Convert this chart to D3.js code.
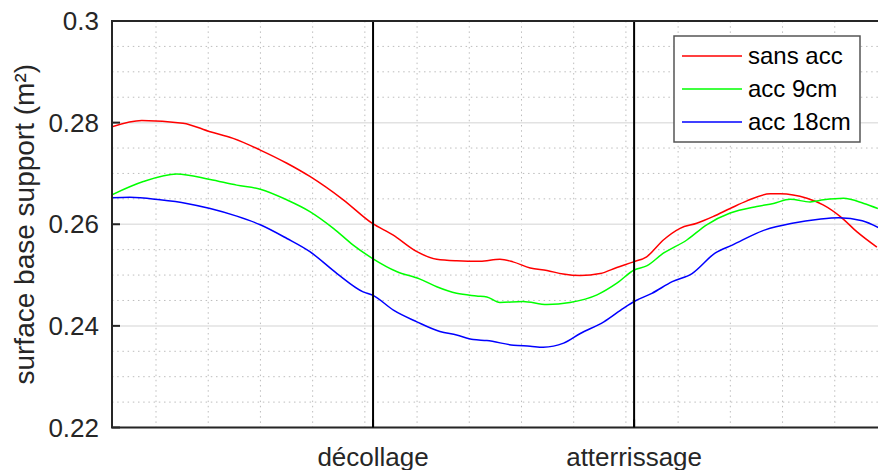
<!DOCTYPE html>
<html>
<head>
<meta charset="utf-8">
<script src="https://cdn.jsdelivr.net/npm/d3@7"></script>
<style>
  body { margin: 0; background: #fff; }
  text { font-family: "Liberation Sans", Arial, sans-serif; fill: #262626; }
</style>
</head>
<body>
<div id="chart"></div>
<script>
// x units: start of the recording = 0, décollage = 50, atterrissage = 100
const phaseTicks = [50, 100];
const phaseLabels = ["décollage", "atterrissage"];
const yTicks = [0.22, 0.24, 0.26, 0.28, 0.3];

const seriesNames = ["sans acc", "acc 9cm", "acc 18cm"];
const seriesColors = ["#ff0000", "#00ff00", "#0000ff"];

const sansAccX = [0, 5.7, 13.6, 18.8, 23.2, 28.4, 33.5, 37.9, 44.3, 49.8, 53.8, 58.4, 62.2, 66.0, 70.5, 74.3, 76.8, 80.1, 83.3, 86.4, 89.7, 93.5, 96.7, 99.9, 102.4, 105.6, 108.8, 112.0, 115.1, 118.4, 121.6, 126.1, 128.0, 133.1, 136.2, 139.5, 142.7, 146.5];
const sansAccY = [0.2792, 0.2804, 0.2799, 0.2782, 0.2769, 0.2746, 0.2720, 0.2694, 0.2648, 0.2602, 0.2579, 0.2546, 0.2531, 0.2528, 0.2527, 0.2531, 0.2526, 0.2514, 0.2509, 0.2502, 0.2499, 0.2503, 0.2515, 0.2526, 0.2536, 0.2569, 0.2592, 0.2602, 0.2615, 0.2631, 0.2646, 0.2660, 0.2660, 0.2651, 0.2638, 0.2615, 0.2585, 0.2555];

const acc9X = [0, 6.0, 12.4, 18.8, 23.9, 28.4, 33.5, 37.9, 42.4, 46.2, 50.0, 54.5, 59.0, 62.2, 66.0, 69.8, 71.8, 74.3, 78.7, 83.3, 87.7, 92.9, 96.7, 100.0, 102.4, 105.6, 110.1, 113.9, 118.4, 123.5, 126.7, 129.9, 133.7, 136.3, 140.1, 144.0, 146.7];
const acc9Y = [0.2658, 0.2684, 0.2699, 0.2688, 0.2677, 0.2669, 0.2648, 0.2625, 0.2592, 0.2559, 0.2532, 0.2507, 0.2492, 0.2477, 0.2464, 0.2459, 0.2457, 0.2446, 0.2448, 0.2442, 0.2446, 0.2461, 0.2484, 0.2510, 0.2518, 0.2543, 0.2569, 0.2599, 0.2622, 0.2635, 0.2641, 0.2649, 0.2644, 0.2648, 0.2651, 0.2641, 0.2631];

const acc18X = [0, 3.4, 9.2, 14.3, 18.8, 23.9, 28.4, 33.5, 37.9, 43.1, 48.1, 50.0, 53.9, 58.4, 62.8, 66.0, 69.2, 71.8, 76.9, 80.1, 82.6, 86.5, 89.7, 94.2, 98.0, 100.0, 103.4, 107.3, 111.1, 115.5, 118.8, 125.1, 130.3, 135.4, 139.2, 143.7, 147.1];
const acc18Y = [0.2652, 0.2653, 0.2648, 0.2641, 0.2631, 0.2616, 0.2599, 0.2572, 0.2546, 0.2503, 0.2467, 0.2460, 0.2431, 0.2408, 0.2389, 0.2382, 0.2373, 0.2371, 0.2362, 0.2360, 0.2358, 0.2366, 0.2385, 0.2408, 0.2435, 0.2448, 0.2464, 0.2487, 0.2503, 0.2543, 0.2559, 0.2589, 0.2602, 0.2610, 0.2613, 0.2607, 0.2592];

const seriesX = [sansAccX, acc9X, acc18X];
const seriesY = [sansAccY, acc9Y, acc18Y];

const W = 878, H = 470;
const margin = { top: 21, left: 112 },
      width = 767.5,   // axes run past the right edge of the picture
      height = 406.5;

const svg = d3.select("#chart").append("svg")
    .attr("width", W)
    .attr("height", H);

const g = svg.append("g")
    .attr("transform", `translate(${margin.left},${margin.top})`);

const x = d3.scaleLinear().domain([0, 147]).range([0, width]);
const y = d3.scaleLinear().domain([0.22, 0.3]).range([height, 0]);

// minor grid (dotted)
const minorX = d3.range(8.43, 147, 10);
const minorY = d3.range(0.225, 0.3, 0.005).filter(v => Math.abs((v * 1000) % 20) > 1);

g.selectAll(".minor-x").data(minorX).enter().append("line")
   .attr("x1", d => x(d)).attr("x2", d => x(d))
   .attr("y1", 0).attr("y2", height)
   .attr("stroke", "#bdbdbd").attr("stroke-width", 1)
   .attr("stroke-dasharray", "1.5,3.7");

g.selectAll(".minor-y").data(minorY).enter().append("line")
   .attr("x1", 0).attr("x2", width)
   .attr("y1", d => y(d)).attr("y2", d => y(d))
   .attr("stroke", "#bdbdbd").attr("stroke-width", 1)
   .attr("stroke-dasharray", "1.5,3.7");

// major grid
g.selectAll(".major-y").data(yTicks).enter().append("line")
   .attr("x1", 0).attr("x2", width)
   .attr("y1", d => y(d)).attr("y2", d => y(d))
   .attr("stroke", "#e2e2e2").attr("stroke-width", 1.5);

// clip for the curves
svg.append("defs").append("clipPath").attr("id", "clip")
   .append("rect").attr("width", width).attr("height", height);

const line = d3.line()
    .x(d => x(d[0]))
    .y(d => y(d[1]))
    .curve(d3.curveMonotoneX);

const plot = g.append("g").attr("clip-path", "url(#clip)");

seriesNames.forEach((name, i) => {
   const pts = seriesX[i].map((v, j) => [v, seriesY[i][j]]);
   plot.append("path")
       .datum(pts)
       .attr("fill", "none")
       .attr("stroke", seriesColors[i])
       .attr("stroke-width", 1.5)
       .attr("d", line);
});

// phase markers
g.selectAll(".phase").data(phaseTicks).enter().append("line")
   .attr("x1", d => x(d)).attr("x2", d => x(d))
   .attr("y1", 0).attr("y2", height)
   .attr("stroke", "#000").attr("stroke-width", 2);

// axes box
g.append("line").attr("x1", 0).attr("x2", 0).attr("y1", 0).attr("y2", height)
   .attr("stroke", "#262626").attr("stroke-width", 2);
g.append("line").attr("x1", -1).attr("x2", width).attr("y1", 0).attr("y2", 0)
   .attr("stroke", "#262626").attr("stroke-width", 2);
g.append("line").attr("x1", -1).attr("x2", width).attr("y1", height).attr("y2", height)
   .attr("stroke", "#262626").attr("stroke-width", 2);

// y ticks + labels
g.selectAll(".ytick").data(yTicks).enter().append("line")
   .attr("x1", 0).attr("x2", 8)
   .attr("y1", d => y(d)).attr("y2", d => y(d))
   .attr("stroke", "#262626").attr("stroke-width", 2);

g.selectAll(".ylab").data(yTicks).enter().append("text")
   .attr("x", -13)
   .attr("y", d => y(d))
   .attr("dy", "0.35em")
   .attr("text-anchor", "end")
   .style("font-size", "26px")
   .text(d => d3.format("")(+d.toFixed(2)));

// x ticks + labels
g.selectAll(".xtick").data(phaseTicks).enter().append("line")
   .attr("x1", d => x(d)).attr("x2", d => x(d))
   .attr("y1", height).attr("y2", height - 8)
   .attr("stroke", "#000").attr("stroke-width", 2);

g.selectAll(".xlab").data(phaseTicks).enter().append("text")
   .attr("x", d => x(d))
   .attr("y", height + 38)
   .attr("text-anchor", "middle")
   .style("font-size", "26px")
   .text((d, i) => phaseLabels[i]);

// y axis title
svg.append("text")
   .attr("transform", "rotate(-90)")
   .attr("x", -(margin.top + height / 2))
   .attr("y", 34)
   .attr("text-anchor", "middle")
   .style("font-size", "28px")
   .text("surface base support (m²)");

// legend
const legend = svg.append("g").attr("transform", "translate(674,36)");
legend.append("rect")
   .attr("width", 186).attr("height", 106)
   .attr("fill", "#fff").attr("stroke", "#555").attr("stroke-width", 1.5);

seriesNames.forEach((name, i) => {
   const ly = 20 + i * 33;
   legend.append("line")
      .attr("x1", 8).attr("x2", 68)
      .attr("y1", ly).attr("y2", ly)
      .attr("stroke", seriesColors[i]).attr("stroke-width", 1.5);
   legend.append("text")
      .attr("x", 74).attr("y", ly)
      .attr("dy", "0.35em")
      .style("font-size", "24px")
      .style("fill", "#000")
      .text(name);
});
</script>
</body>
</html>
